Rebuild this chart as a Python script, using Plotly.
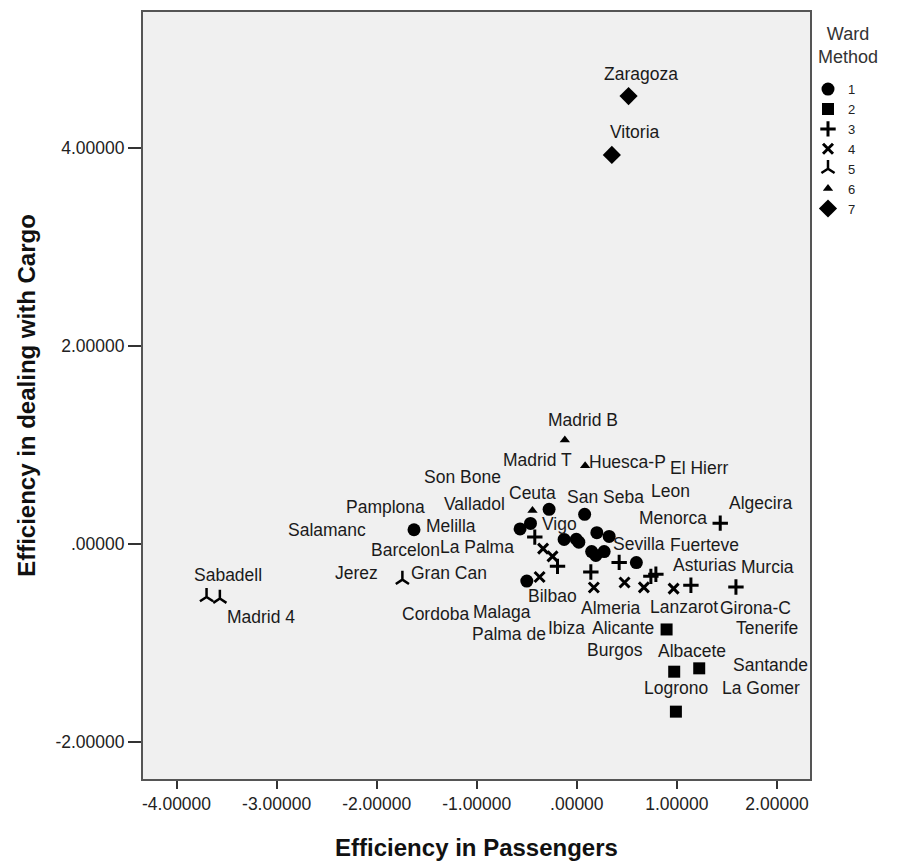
import plotly.graph_objects as go

# ---------------- data ----------------
airports = ["Zaragoza", "Vitoria", "Madrid B", "Huesca-P", "Ceuta", "Sabadell", "Madrid 4", "Gran Can",
            "Melilla", "Valladol", "Son Bone", "Vigo", "San Seba", "Leon", "Sevilla", "Fuerteve",
            "Bilbao", "La Palma", "Malaga", "Palma de", "Barcelon", "Ibiza", "Pamplona",
            "Algecira", "Murcia", "Lanzarot", "Asturias", "Menorca", "El Hierr", "Cordoba",
            "Salamanc", "Jerez", "Almeria", "Girona-C", "Tenerife", "Burgos", "Madrid T",
            "La Gomer", "", "Alicante", "Albacete", "Santande", "Logrono"]
eff_passengers = [0.517, 0.350, -0.120, 0.083, -0.443, -3.700, -3.567, -1.743,
                  -1.627, -0.567, -0.277, -0.463, 0.078, 0.200, 0.323, 0.595,
                  -0.500, -0.127, -0.005, 0.020, 0.148, 0.273, 0.190,
                  1.433, 1.590, 1.140, 0.740, 0.790, 0.423, 0.140,
                  -0.193, -0.420, 0.170, 0.967, 0.670, 0.477, -0.337,
                  -0.243, -0.372, 0.897, 0.973, 1.223, 0.990]
eff_cargo = [4.526, 3.931, 1.048, 0.789, 0.336, -0.538, -0.554, -0.363,
             0.141, 0.149, 0.348, 0.205, 0.297, 0.112, 0.074, -0.191,
             -0.378, 0.043, 0.045, 0.016, -0.080, -0.080, -0.118,
             0.208, -0.437, -0.420, -0.330, -0.309, -0.189, -0.286,
             -0.229, 0.067, -0.443, -0.454, -0.441, -0.392, -0.050,
             -0.128, -0.337, -0.867, -1.294, -1.260, -1.698]
ward_cluster = [7, 7, 6, 6, 6, 5, 5, 5,
                1, 1, 1, 1, 1, 1, 1, 1,
                1, 1, 1, 1, 1, 1, 1,
                3, 3, 3, 3, 3, 3, 3,
                3, 3, 4, 4, 4, 4, 4,
                4, 4, 2, 2, 2, 2]
x_tick_values = [-4, -3, -2, -1, 0, 1, 2]
x_tick_labels = ["-4.00000", "-3.00000", "-2.00000", "-1.00000", ".00000", "1.00000", "2.00000"]
y_tick_values = [-2, 0, 2, 4]
y_tick_labels = ["-2.00000", ".00000", "2.00000", "4.00000"]

# ---------------- styles / label placement (pixel offsets) ----------------
label_dx = [12, 23, 18, 42, 0, 21, 41, 47,
            37, -46, -87, 29, 21, 74, 30, 68,
            26, -87, -74, -70, -186, -38, -210,
            40, 32, -7, 54, 17, 80, -155,
            -231, -178, 17, 82, 123, -10, -6,
            208, 0, -44, 18, 71, 0]
label_dy = [22, 23, 20, 4, 17, 22, -18, 7,
            4, 25, 32, -1, 17, 42, -8, 18,
            -15, -8, -73, -92, 2, -76, 48,
            20, 20, -22, 11, 56, 94, -42,
            36, -36, -20, -19, -41, -68, 89,
            -132, 0, 1, 21, 3, 24]

symbols = {
    1: dict(symbol="circle", size=13, color="black", line=dict(width=0)),
    2: dict(symbol="square", size=12, color="black", line=dict(width=0)),
    3: dict(symbol="cross-thin", size=11, color="black", line=dict(width=3, color="black")),
    4: dict(symbol="x-thin", size=10, color="black", line=dict(width=3, color="black")),
    5: dict(symbol="y-up", size=11, color="black", line=dict(width=2.5, color="black")),
    6: dict(symbol="triangle-up", size=9, color="black", line=dict(width=0)),
    7: dict(symbol="diamond", size=14, color="black", line=dict(width=0)),
}

FONT = "Liberation Sans, Arial, sans-serif"

fig = go.Figure()
for c in range(1, 8):
    idx = [i for i, k in enumerate(ward_cluster) if k == c]
    fig.add_trace(go.Scatter(
        x=[eff_passengers[i] for i in idx],
        y=[eff_cargo[i] for i in idx],
        mode="markers",
        name=str(c),
        text=[airports[i] for i in idx],
        marker=symbols[c],
        hoverinfo="text+x+y",
    ))

for i, name in enumerate(airports):
    if not name:
        continue
    fig.add_annotation(
        x=eff_passengers[i], y=eff_cargo[i], text=name, showarrow=False,
        xshift=label_dx[i], yshift=label_dy[i], xanchor="center", yanchor="middle",
        font=dict(family=FONT, size=17.5, color="#1a1a1a"),
    )

# legend title
fig.add_annotation(
    xref="paper", yref="paper", x=1.057, y=0.9558, text="Ward<br>Method", showarrow=False,
    xanchor="center", yanchor="middle", align="center",
    font=dict(family=FONT, size=18, color="#333333"),
)

axis_common = dict(
    showgrid=False, zeroline=False, showline=True, linecolor="#555555", linewidth=2,
    mirror=True, ticks="outside", tickcolor="#333333", tickwidth=2,
    tickfont=dict(family=FONT, size=17.5, color="#222222"),
)

fig.update_layout(
    width=895, height=857,
    margin=dict(l=135, r=93, t=2, b=86),
    paper_bgcolor="white", plot_bgcolor="#F0F0F0",
    xaxis=dict(range=[-4.335, 2.33], tickvals=x_tick_values, ticktext=x_tick_labels, ticklen=8,
               title=dict(text="<b>Efficiency in Passengers</b>", font=dict(family=FONT, size=24, color="#111"),
                          standoff=26),
               **axis_common),
    yaxis=dict(range=[-2.379, 5.376], tickvals=y_tick_values, ticktext=y_tick_labels, ticklen=13,
               title=dict(text="<b>Efficiency in dealing with Cargo</b>", font=dict(family=FONT, size=24, color="#111"),
                          standoff=13),
               **axis_common),
    legend=dict(
        x=0.997, y=0.919, xanchor="left", yanchor="top",
        font=dict(family=FONT, size=13, color="#222"),
        bgcolor="rgba(0,0,0,0)", itemwidth=30,
    ),
    showlegend=True,
)

fig.write_html("out.html")
